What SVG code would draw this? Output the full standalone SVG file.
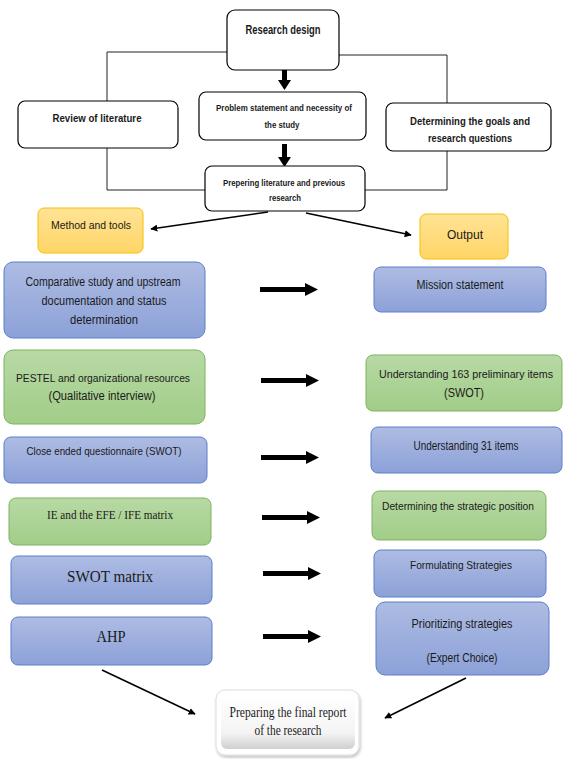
<svg xmlns="http://www.w3.org/2000/svg" width="564" height="759" viewBox="0 0 564 759">
<defs>
<linearGradient id="gBlue" x1="0" y1="0" x2="0" y2="1"><stop offset="0" stop-color="#AEBCE3"/><stop offset="1" stop-color="#8CA1D8"/></linearGradient>
<linearGradient id="gGreen" x1="0" y1="0" x2="0" y2="1"><stop offset="0" stop-color="#B8D9A5"/><stop offset="1" stop-color="#A1CD88"/></linearGradient>
<linearGradient id="gOrange" x1="0" y1="0" x2="0" y2="1"><stop offset="0" stop-color="#FFE395"/><stop offset="1" stop-color="#FFD566"/></linearGradient>
<linearGradient id="gWhite" x1="0" y1="0" x2="0" y2="1"><stop offset="0" stop-color="#FFFFFF"/><stop offset="0.7" stop-color="#F4F4F4"/><stop offset="1" stop-color="#CFCFCF"/></linearGradient>
<marker id="ah" viewBox="0 0 10 10" refX="9" refY="5" markerWidth="7" markerHeight="7" markerUnits="userSpaceOnUse" orient="auto"><path d="M0,0 L10,5 L0,10 z" fill="#000"/></marker>
<filter id="sh" x="-10%" y="-10%" width="130%" height="140%"><feDropShadow dx="1" dy="2" stdDeviation="1.5" flood-color="#000" flood-opacity="0.25"/></filter>
</defs>
<style>
.w{fill:#fff;stroke:#000;stroke-width:1.2}
.b{fill:url(#gBlue);stroke:#5B7ECB;stroke-width:1}
.g{fill:url(#gGreen);stroke:#7FB35F;stroke-width:1}
.o{fill:url(#gOrange);stroke:#F5C000;stroke-width:1}
text{font-family:"Liberation Sans",Arial,sans-serif;fill:#1a1a1a;text-anchor:middle}
.tb{font-weight:bold;font-size:13px}
.ts{font-weight:bold;font-size:9px}
.t{font-size:12px}
.sm{font-size:10.5px}
.sf{font-family:"Liberation Serif","Times New Roman",serif}
.ln{fill:none;stroke:#222;stroke-width:1}
.ar{fill:none;stroke:#000;stroke-width:1.6}
</style>
<g id="connectors">
<path class="ln" d="M227,52 H107 V101"/>
<path class="ln" d="M339,55 H447 V103"/>
<path class="ln" d="M107,148 V190 H205"/>
<path class="ln" d="M447,151 V190 H365"/>
<path d="M282,66 h5 v14 h4 l-6.5,10 l-6.5,-10 h4 z" fill="#000"/>
<path d="M282,144 h5 v13 h4 l-6.5,10 l-6.5,-10 h4 z" fill="#000"/>
<line class="ar" x1="268" y1="212" x2="151" y2="229" marker-end="url(#ah)"/>
<line class="ar" x1="306" y1="213" x2="411" y2="235" marker-end="url(#ah)"/>
<path d="M260,287 H305 V283 L318,289.5 L305,296 V292 H260 z" fill="#000"/>
<path d="M261,378 H306 V374 L319,380.5 L306,387 V383 H261 z" fill="#000"/>
<path d="M261,455 H306 V451 L319,457.5 L306,464 V460 H261 z" fill="#000"/>
<path d="M262,515 H307 V511 L320,517.5 L307,524 V520 H262 z" fill="#000"/>
<path d="M263,571 H308 V567 L321,573.5 L308,580 V576 H263 z" fill="#000"/>
<path d="M263,634 H308 V630 L321,636.5 L308,643 V639 H263 z" fill="#000"/>
<line class="ar" x1="102" y1="670" x2="195" y2="714" marker-end="url(#ah)"/>
<line class="ar" x1="466" y1="678" x2="385" y2="718" marker-end="url(#ah)"/>
</g>
<g id="research-design"><rect class="w" x="227" y="10" width="112" height="60" rx="8"/><text class="tb" x="283" y="34" textLength="75" lengthAdjust="spacingAndGlyphs">Research design</text></g>
<g id="review"><rect class="w" x="18" y="101" width="160" height="47" rx="7"/><text class="ts" x="97" y="122" style="font-size:11px" textLength="89" lengthAdjust="spacingAndGlyphs">Review of literature</text></g>
<g id="problem"><rect class="w" x="199" y="92" width="167" height="48" rx="7"/><text class="ts" x="284" y="111" style="font-size:9px" textLength="136" lengthAdjust="spacingAndGlyphs">Problem statement and necessity of</text><text class="ts" x="282" y="128" style="font-size:9px" textLength="35" lengthAdjust="spacingAndGlyphs">the study</text></g>
<g id="goals"><rect class="w" x="386" y="103" width="165" height="48" rx="7"/><text class="ts" x="470" y="125" style="font-size:11px" textLength="120" lengthAdjust="spacingAndGlyphs">Determining the goals and</text><text class="ts" x="470" y="142" style="font-size:11px" textLength="84" lengthAdjust="spacingAndGlyphs">research questions</text></g>
<g id="prep-lit"><rect class="w" x="205" y="166" width="160" height="45" rx="7"/><text class="ts" x="284" y="186" style="font-size:9px" textLength="122" lengthAdjust="spacingAndGlyphs">Prepering  literature  and previous</text><text class="ts" x="285" y="201" style="font-size:9px" textLength="32" lengthAdjust="spacingAndGlyphs">research</text></g>
<g id="method"><rect class="o" x="38" y="208" width="105" height="45" rx="6"/><text class="sm" x="91" y="229" style="font-size:11px" textLength="80" lengthAdjust="spacingAndGlyphs">Method and tools</text></g>
<g id="output"><rect class="o" x="420" y="214" width="88" height="45" rx="6"/><text class="t" x="465" y="239" style="font-size:13px" textLength="36" lengthAdjust="spacingAndGlyphs">Output</text></g>
<g id="comparative"><rect class="b" x="4" y="262" width="201" height="76" rx="9"/><text class="t" x="103" y="286" textLength="155" lengthAdjust="spacingAndGlyphs">Comparative study and upstream</text><text class="t" x="104" y="305" textLength="125" lengthAdjust="spacingAndGlyphs">documentation and status</text><text class="t" x="104" y="324" textLength="68" lengthAdjust="spacingAndGlyphs">determination</text></g>
<g id="mission"><rect class="b" x="374" y="267" width="172" height="45" rx="7"/><text class="t" x="460" y="289" textLength="87" lengthAdjust="spacingAndGlyphs">Mission statement</text></g>
<g id="pestel"><rect class="g" x="4" y="350" width="201" height="74" rx="9"/><text class="t" x="103" y="382" style="font-size:11px" textLength="174" lengthAdjust="spacingAndGlyphs">PESTEL and organizational resources</text><text class="t" x="102" y="400" textLength="107" lengthAdjust="spacingAndGlyphs">(Qualitative interview)</text></g>
<g id="und163"><rect class="g" x="366" y="355" width="196" height="56" rx="7"/><text class="t" x="466" y="378" style="font-size:10.5px" textLength="174" lengthAdjust="spacingAndGlyphs">Understanding 163 preliminary items</text><text class="t" x="464" y="397" textLength="40" lengthAdjust="spacingAndGlyphs">(SWOT)</text></g>
<g id="closed"><rect class="b" x="4" y="437" width="203" height="46" rx="7"/><text class="sm" x="104" y="455" textLength="155" lengthAdjust="spacingAndGlyphs">Close ended questionnaire (SWOT)</text></g>
<g id="und31"><rect class="b" x="371" y="427" width="191" height="46" rx="7"/><text class="t" x="466" y="450" textLength="105" lengthAdjust="spacingAndGlyphs">Understanding 31 items</text></g>
<g id="ie"><rect class="g" x="9" y="498" width="202" height="47" rx="7"/><text class="sf" x="110" y="519" style="font-size:13px" textLength="126" lengthAdjust="spacingAndGlyphs">IE and the EFE / IFE matrix</text></g>
<g id="strategic"><rect class="g" x="372" y="491" width="174" height="49" rx="7"/><text class="sm" x="458" y="510" style="font-size:10.5px" textLength="152" lengthAdjust="spacingAndGlyphs">Determining the strategic position</text></g>
<g id="swot"><rect class="b" x="11" y="556" width="201" height="48" rx="7"/><text class="sf" x="110" y="582" style="font-size:17px" textLength="86" lengthAdjust="spacingAndGlyphs">SWOT matrix</text></g>
<g id="formulating"><rect class="b" x="374" y="550" width="172" height="47" rx="7"/><text class="sm" x="461" y="569" style="font-size:11px" textLength="102" lengthAdjust="spacingAndGlyphs">Formulating Strategies</text></g>
<g id="ahp"><rect class="b" x="11" y="617" width="201" height="48" rx="7"/><text class="sf" x="111" y="642" style="font-size:16px" textLength="29" lengthAdjust="spacingAndGlyphs">AHP</text></g>
<g id="prioritizing"><rect class="b" x="376" y="602" width="173" height="73" rx="9"/><text class="t" x="462" y="628" textLength="101" lengthAdjust="spacingAndGlyphs">Prioritizing strategies</text><text class="t" x="462" y="662" textLength="71" lengthAdjust="spacingAndGlyphs">(Expert Choice)</text></g>
<g id="final"><rect x="216" y="690" width="143" height="65" rx="9" fill="#fff" stroke="#ddd" stroke-width="1" filter="url(#sh)"/><rect x="221" y="695" width="134" height="54" rx="6" fill="url(#gWhite)"/><text class="sf" x="288" y="717" style="font-size:14px" textLength="117" lengthAdjust="spacingAndGlyphs">Preparing  the final report</text><text class="sf" x="288" y="735" style="font-size:14px" textLength="67" lengthAdjust="spacingAndGlyphs">of the research</text></g>
</svg>
